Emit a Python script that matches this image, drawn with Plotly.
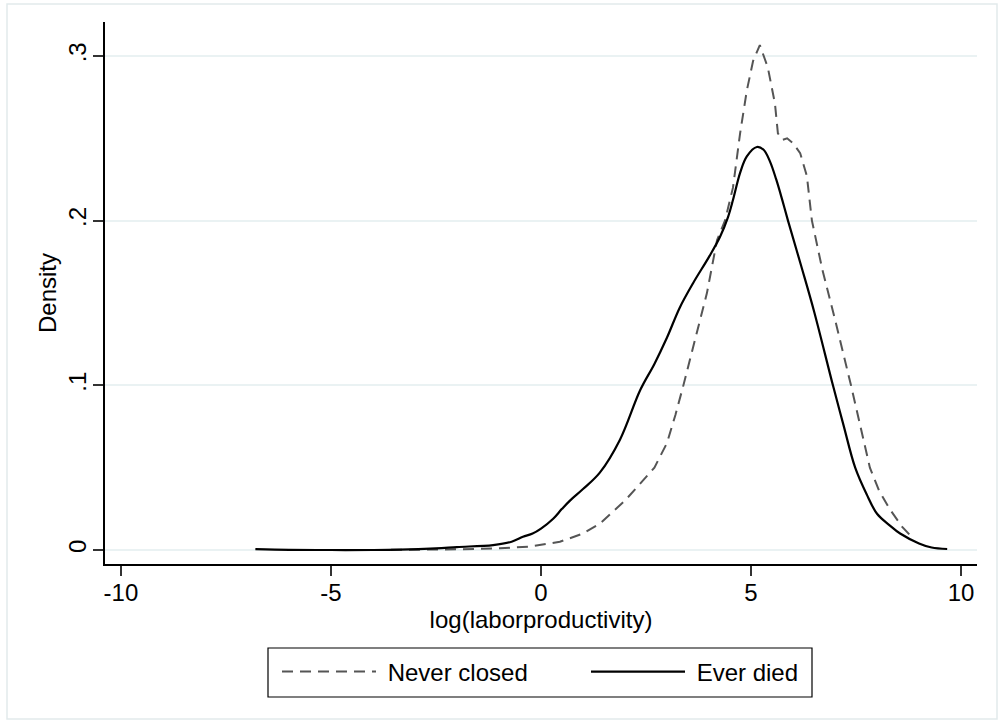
import plotly.graph_objects as go

# Never closed (dashed)
nc_x = [-4.0, -3.0, -2.33, -1.5, -0.98, -0.3, 0.45, 1.0, 1.4, 2.0, 2.36, 2.7, 3.0, 3.2, 3.38,
        3.62, 3.95, 4.19, 4.38, 4.57, 4.74, 4.9, 5.05, 5.21, 5.4, 5.57, 5.64, 5.75, 5.86,
        6.0, 6.17, 6.33, 6.45, 6.7, 7.0, 7.38, 7.6, 7.83, 8.05, 8.3, 8.6, 8.86]
nc_y = [0.0, 0.0, 0.0003, 0.0007, 0.001, 0.002, 0.005, 0.010, 0.016, 0.030, 0.040, 0.050, 0.065, 0.082, 0.099,
        0.123, 0.156, 0.188, 0.200, 0.220, 0.253, 0.279, 0.297, 0.3066, 0.293, 0.271, 0.253, 0.249, 0.250,
        0.247, 0.241, 0.227, 0.200, 0.170, 0.140, 0.100, 0.075, 0.050, 0.036, 0.025, 0.014, 0.007]

# Ever died (solid)
ed_x = [-6.8, -6.0, -5.0, -4.0, -3.36, -2.5, -2.0, -1.14, -0.7, -0.43, -0.2, 0.0, 0.29, 0.5, 0.69,
        1.0, 1.4, 1.88, 2.36, 2.7, 3.0, 3.3, 3.62, 4.0, 4.26, 4.45, 4.57, 4.74, 4.9, 5.14,
        5.3, 5.45, 5.6, 5.75, 5.88, 6.2, 6.5, 6.95, 7.2, 7.48, 7.75, 8.0, 8.3, 8.55, 9.0, 9.3, 9.67]
ed_y = [0.0005, 0.0001, 0.0, 0.0, 0.0002, 0.001, 0.0018, 0.003, 0.005, 0.008, 0.010, 0.013, 0.019, 0.025, 0.030,
        0.037, 0.047, 0.067, 0.097, 0.113, 0.129, 0.147, 0.162, 0.178, 0.190, 0.202, 0.2125, 0.229, 0.239, 0.2447,
        0.243, 0.236, 0.225, 0.212, 0.200, 0.172, 0.145, 0.100, 0.076, 0.050, 0.034, 0.022, 0.015, 0.010, 0.004, 0.0015, 0.0006]

series_names = ["Never closed", "Ever died"]

x_ticks = [-10, -5, 0, 5, 10]
x_tick_labels = ["-10", "-5", "0", "5", "10"]
y_ticks = [0, 0.1, 0.2, 0.3]
y_tick_labels = ["0", ".1", ".2", ".3"]

FONT = "Liberation Sans, Arial, Helvetica, sans-serif"
FS = 24
PAD = "\u00a0"

fig = go.Figure()
fig.add_trace(go.Scatter(x=nc_x, y=nc_y, mode="lines", name=PAD + series_names[0],
                         line=dict(color="#555555", width=2, dash="11px,7px")))
fig.add_trace(go.Scatter(x=ed_x, y=ed_y, mode="lines", name=PAD + series_names[1],
                         line=dict(color="#000000", width=2.2), line_shape="spline"))

fig.update_layout(
    width=1002, height=723,
    margin=dict(l=105, r=25, t=22, b=159),
    paper_bgcolor="white", plot_bgcolor="white",
    font=dict(family=FONT, size=FS, color="#000000"),
    showlegend=True,
    legend=dict(orientation="h", x=(277 - 105) / 872, xanchor="left",
                y=(564 - 672) / 542, yanchor="middle",
                borderwidth=0, itemwidth=94, bgcolor="rgba(0,0,0,0)",
                font=dict(family=FONT, size=FS), entrywidth=200),
    xaxis=dict(range=[-10.38, 10.38], tickvals=x_ticks, ticktext=x_tick_labels,
               showgrid=False, zeroline=False, showline=True, linecolor="#000000", linewidth=1.5,
               ticks="outside", ticklen=10, tickwidth=1.5, tickcolor="#333333",
               ticklabelstandoff=-4,
               title=dict(text="log(laborproductivity)", standoff=0,
                          font=dict(family=FONT, size=FS)),
               tickfont=dict(family=FONT, size=FS)),
    yaxis=dict(range=[-0.0085, 0.3206], tickvals=y_ticks, ticktext=y_tick_labels,
               showgrid=True, gridcolor="#eaf2f3", gridwidth=2, zeroline=False,
               showline=True, linecolor="#000000", linewidth=1.5,
               ticks="outside", ticklen=10, tickwidth=1.5, tickcolor="#333333",
               tickangle=-90, ticklabelstandoff=-2,
               title=dict(text="Density", standoff=0, font=dict(family=FONT, size=FS)),
               tickfont=dict(family=FONT, size=FS)),
)

# legend frame
fig.add_shape(type="rect", xref="paper", yref="paper",
              x0=(268 - 105) / 872, x1=(812 - 105) / 872,
              y0=(564 - 697) / 542, y1=(564 - 648) / 542,
              line=dict(color="#000000", width=1.2), fillcolor="rgba(0,0,0,0)")
# outer graph region frame
fig.add_shape(type="rect", xref="paper", yref="paper",
              x0=(7 - 105) / 872, x1=(997 - 105) / 872,
              y0=(564 - 719) / 542, y1=(564 - 4) / 542,
              line=dict(color="#e2eaec", width=1.5), fillcolor="rgba(0,0,0,0)", layer="below")

fig.write_html("out.html", config={"displayModeBar": False},
               post_script="document.body.style.margin='0';")
